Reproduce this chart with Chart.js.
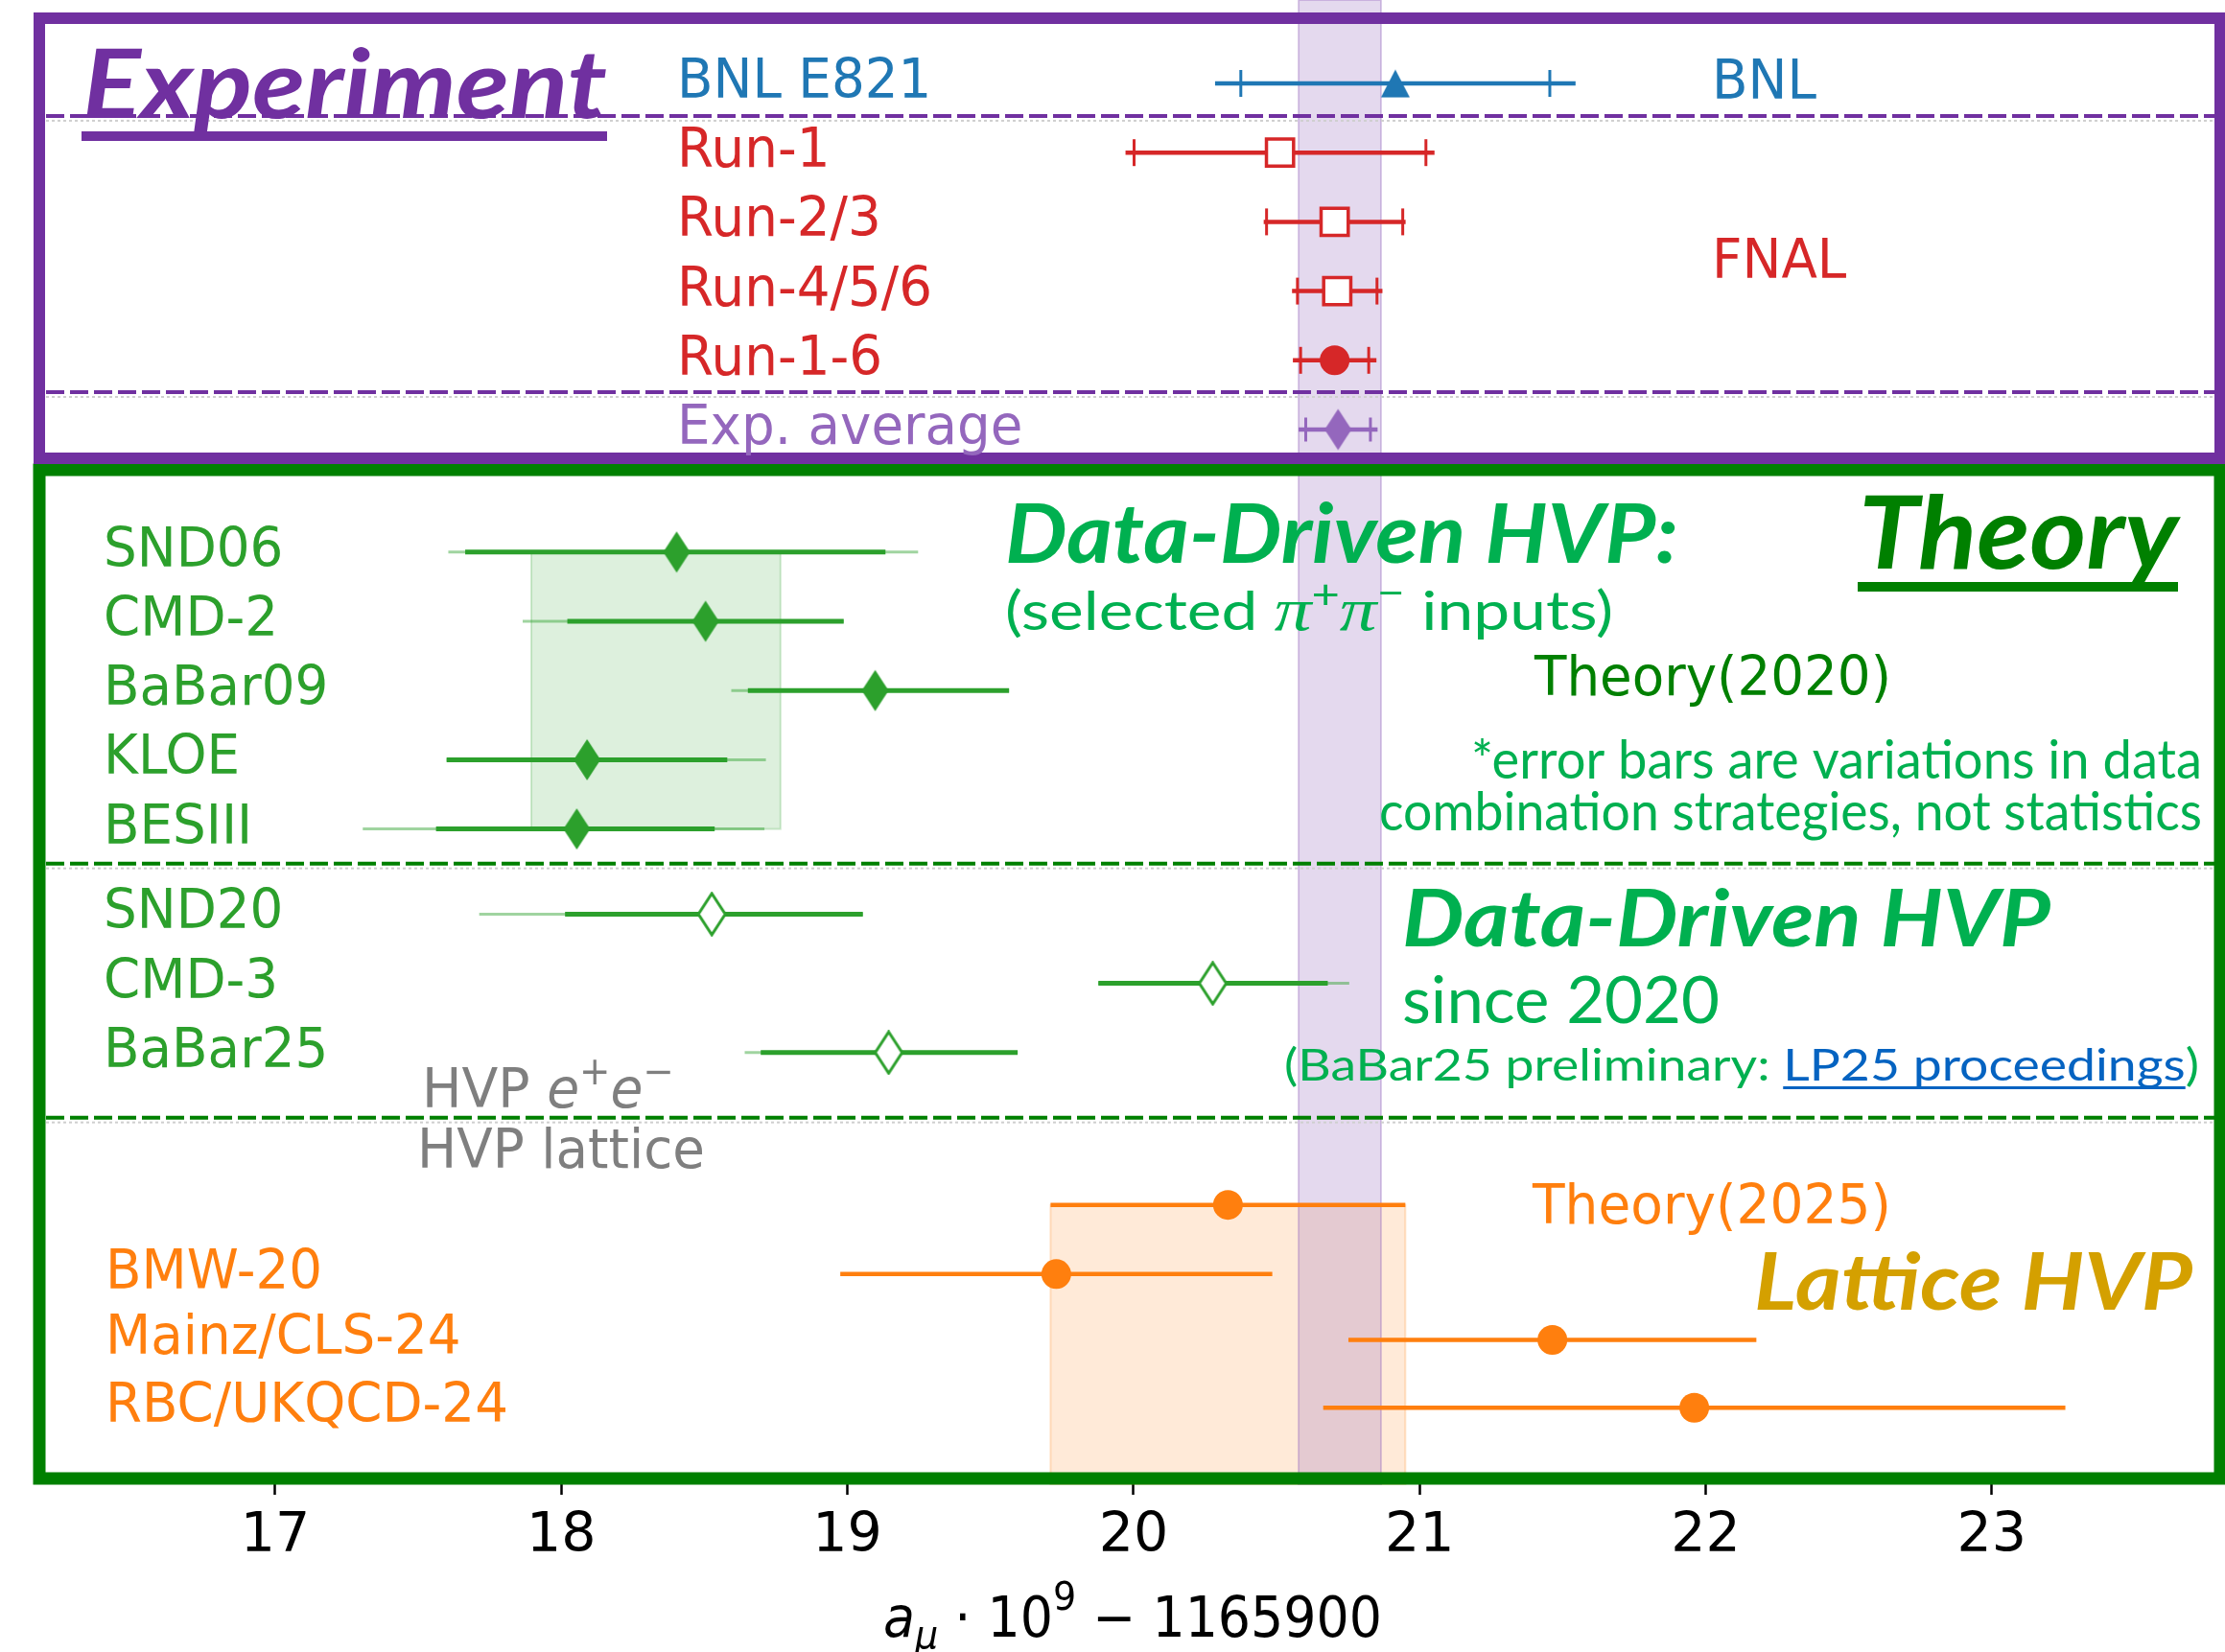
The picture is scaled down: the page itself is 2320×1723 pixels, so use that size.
<!DOCTYPE html>
<html>
<head>
<meta charset="utf-8">
<title>a_mu: experiment vs theory</title>
<script src="https://cdn.jsdelivr.net/npm/chart.js@4.4.1/dist/chart.umd.min.js"></script>
<style>
  html, body { margin: 0; padding: 0; background: #fff; }
  canvas { display: block; }
</style>
</head>
<body>
<canvas id="amuChart" width="2320" height="1723"></canvas>
<script>
// ---- data (a_mu * 1e9 - 1165900) ----
// experiment: value, statistical error (caps), total error (line)
const expLabels = ['BNL E821', 'Run-1', 'Run-2/3', 'Run-4/5/6', 'Run-1-6', 'Exp. average']
const expRows   = [0, 1, 2, 3, 4, 5]
const expValues = [20.915, 20.512, 20.703, 20.712, 20.703, 20.715]
const expStat   = [0.54, 0.51, 0.238, 0.139, 0.119, 0.113]
const expTotal  = [0.63, 0.54, 0.248, 0.158, 0.146, 0.138]
const expBand   = [20.577, 20.865]

// data-driven HVP: value, inner range (thick), outer range (light)
const ddLabels  = ['SND06', 'CMD-2', 'BaBar09', 'KLOE', 'BESIII', 'SND20', 'CMD-3', 'BaBar25']
const ddRows    = [6.77, 7.77, 8.77, 9.77, 10.77, 12, 13, 14]
const ddValues  = [18.403, 18.504, 19.097, 18.09, 18.054, 18.526, 20.277, 19.144]
const ddInnerLo = [17.664, 18.021, 18.652, 17.599, 17.562, 18.013, 19.877, 18.697]
const ddInnerHi = [19.133, 18.987, 19.565, 18.58, 18.536, 19.054, 20.679, 19.595]
const ddOuterLo = [17.605, 17.865, 18.594, 17.599, 17.306, 17.713, 19.877, 18.641]
const ddOuterHi = [19.247, 18.987, 19.565, 18.715, 18.71, 19.054, 20.754, 19.595]
const ddOpen    = [false, false, false, false, false, true, true, true]
const theory2020Band = [17.895, 18.766]

// theory 2025 and lattice HVP
const th25Rows   = [16.2]
const th25Values = [20.33]
const th25Err    = [0.62]
const latLabels  = ['BMW-20', 'Mainz/CLS-24', 'RBC/UKQCD-24']
const latRows    = [17.2, 18.15, 19.13]
const latValues  = [19.73, 21.464, 21.96]
const latErr     = [0.755, 0.713, 1.297]

const xTicks = [17, 18, 19, 20, 21, 22, 23]

// ---- layout / style ----
const X_MIN = 16.038, X_MAX = 23.815
const Y_MIN = -1.205, Y_MAX = 20.2355
const expSeparators = [0.47, 4.46]
const ddSeparators = [11.27, 14.94]

const BLUE = '#1f77b4', RED = '#d62728', PURPLE = '#9467bd', GREEN = '#2ca02c', ORANGE = '#ff7f0e'
const BRIGHT = '#00B050', DARKGREEN = '#008000', FRAME_PURPLE = '#7030A0'
const expColors = [BLUE, RED, RED, RED, RED, PURPLE]
const expCapH = [28, 28, 28, 28, 28, 25]
const DV = '"DejaVu Sans"'

function marker(w, h, draw) {
  const c = document.createElement('canvas')
  c.width = w
  c.height = h
  draw(c.getContext('2d'), w, h)
  return c
}
const triUp = marker(32, 31, (g, w, h) => {
  g.fillStyle = BLUE
  g.beginPath(); g.moveTo(w / 2, 1); g.lineTo(w - 1, h - 1); g.lineTo(1, h - 1); g.closePath(); g.fill()
})
function thinDiamond(fill, stroke) {
  return marker(34, 47, (g, w, h) => {
    g.beginPath(); g.moveTo(w / 2, 2); g.lineTo(w - 3, h / 2); g.lineTo(w / 2, h - 2); g.lineTo(3, h / 2); g.closePath()
    g.fillStyle = fill; g.fill()
    if (stroke) { g.lineWidth = 3; g.strokeStyle = stroke; g.stroke() }
  })
}
const diaPurple = thinDiamond(PURPLE)
const diaGreen = thinDiamond(GREEN)
const diaOpen = thinDiamond('#fff', GREEN)

function seg(t, font, color, dy, ul) { return { t, font, color, dy: dy || 0, ul } }

// draw a row of text pieces, squeezed/stretched to a target width
function rich(ctx, segs, x, y, width, align) {
  let total = 0
  for (const s of segs) { ctx.font = s.font; s.w = ctx.measureText(s.t).width; total += s.w }
  const sx = width ? width / total : 0.96
  const x0 = align === 'right' ? x - total * sx : x
  ctx.save()
  ctx.translate(x0, y)
  ctx.scale(sx, 1)
  ctx.textAlign = 'left'
  ctx.textBaseline = 'alphabetic'
  let cx = 0
  for (const s of segs) {
    ctx.font = s.font
    ctx.fillStyle = s.color
    ctx.fillText(s.t, cx, s.dy)
    if (s.ul) ctx.fillRect(cx, s.ul[0], s.w, s.ul[1])
    cx += s.w
  }
  ctx.restore()
}

function hLine(ctx, x0, x1, yy, color, w) {
  ctx.strokeStyle = color; ctx.lineWidth = w
  ctx.beginPath(); ctx.moveTo(x0, yy); ctx.lineTo(x1, yy); ctx.stroke()
}
function vLine(ctx, xx, y0, y1, color, w) {
  ctx.strokeStyle = color; ctx.lineWidth = w
  ctx.beginPath(); ctx.moveTo(xx, y0); ctx.lineTo(xx, y1); ctx.stroke()
}
function band(ctx, x0, y0, x1, y1, fill, edge) {
  ctx.fillStyle = fill
  ctx.fillRect(x0, y0, x1 - x0, y1 - y0)
  ctx.strokeStyle = edge; ctx.lineWidth = 2
  ctx.strokeRect(x0, y0, x1 - x0, y1 - y0)
}

const backLayer = {
  id: 'backLayer',
  beforeDatasetsDraw(chart) {
    const { ctx, chartArea: a, scales: { x, y } } = chart
    ctx.save()
    // bands
    band(ctx, x.getPixelForValue(theory2020Band[0]), y.getPixelForValue(ddRows[0]),
      x.getPixelForValue(theory2020Band[1]), y.getPixelForValue(ddRows[4]),
      'rgba(44,160,44,0.16)', 'rgba(44,160,44,0.22)')
    band(ctx, x.getPixelForValue(th25Values[0] - th25Err[0]), y.getPixelForValue(th25Rows[0]),
      x.getPixelForValue(th25Values[0] + th25Err[0]), a.bottom,
      'rgba(255,127,14,0.16)', 'rgba(255,127,14,0.22)')
    band(ctx, x.getPixelForValue(expBand[0]), a.top, x.getPixelForValue(expBand[1]), a.bottom,
      'rgba(148,103,189,0.25)', 'rgba(148,103,189,0.35)')

    // separators
    const sep = (rows, color) => rows.forEach(r => {
      const yy = y.getPixelForValue(r)
      ctx.setLineDash([3, 3])
      hLine(ctx, 48, 2310, yy + 5, '#cfcfcf', 2)
      ctx.setLineDash([19, 6])
      hLine(ctx, 48, 2310, yy, color, 4)
    })
    sep(expSeparators, FRAME_PURPLE)
    sep(ddSeparators, DARKGREEN)
    ctx.setLineDash([])

    // experiment error bars: line = total, caps = statistical
    ctx.lineCap = 'butt'
    expValues.forEach((v, i) => {
      const yy = y.getPixelForValue(expRows[i])
      const c = expColors[i]
      hLine(ctx, x.getPixelForValue(v - expTotal[i]), x.getPixelForValue(v + expTotal[i]), yy, c, 4.5)
      const h = expCapH[i] / 2
      vLine(ctx, x.getPixelForValue(v - expStat[i]), yy - h, yy + h, c, 3)
      vLine(ctx, x.getPixelForValue(v + expStat[i]), yy - h, yy + h, c, 3)
    })
    // data-driven ranges
    ddValues.forEach((v, i) => {
      const yy = y.getPixelForValue(ddRows[i])
      hLine(ctx, x.getPixelForValue(ddOuterLo[i]), x.getPixelForValue(ddOuterHi[i]), yy, 'rgba(44,160,44,0.45)', 3)
      hLine(ctx, x.getPixelForValue(ddInnerLo[i]), x.getPixelForValue(ddInnerHi[i]), yy, GREEN, 5)
    })
    // theory 2025 and lattice
    const orange = (vals, errs, rows) => vals.forEach((v, i) => {
      const yy = y.getPixelForValue(rows[i])
      hLine(ctx, x.getPixelForValue(v - errs[i]), x.getPixelForValue(v + errs[i]), yy, ORANGE, 4.5)
    })
    orange(th25Values, th25Err, th25Rows)
    orange(latValues, latErr, latRows)
    ctx.restore()
  }
}

const frontLayer = {
  id: 'frontLayer',
  afterDatasetsDraw(chart) {
    const { ctx, scales: { x, y } } = chart
    ctx.save()
    // frames
    ctx.lineWidth = 13; ctx.strokeStyle = DARKGREEN
    ctx.strokeRect(41, 490, 2274, 1052)
    ctx.lineWidth = 12; ctx.strokeStyle = FRAME_PURPLE
    ctx.strokeRect(41, 19, 2274, 459)

    // row labels
    const lab = `57px ${DV}`
    expLabels.forEach((t, i) => rich(ctx, [seg(t, lab, expColors[i])], 706, y.getPixelForValue(expRows[i]) + 15))
    ddLabels.forEach((t, i) => rich(ctx, [seg(t, lab, GREEN)], 108, y.getPixelForValue(ddRows[i]) + 15))
    latLabels.forEach((t, i) => rich(ctx, [seg(t, lab, ORANGE)], 110, y.getPixelForValue(latRows[i]) + 15))

    // group titles and notes
    rich(ctx, [seg('Experiment', 'italic bold 100px Lato', FRAME_PURPLE)], 86, 123, 547)
    ctx.fillStyle = FRAME_PURPLE; ctx.fillRect(85, 137, 548, 10)
    rich(ctx, [seg('BNL', lab, BLUE)], 1785, 103)
    rich(ctx, [seg('FNAL', lab, RED)], 1785, 290)

    rich(ctx, [seg('Data-Driven HVP:', 'italic bold 86px Lato', BRIGHT)], 1048, 587, 702)
    const pi = 'italic 64px "Liberation Serif"', sup = '42px Lato'
    rich(ctx, [seg('(selected ', '56px Lato', BRIGHT), seg('\u03c0', pi, BRIGHT), seg('+', sup, BRIGHT, -22),
      seg('\u03c0', pi, BRIGHT), seg('\u2212', sup, BRIGHT, -24), seg(' inputs)', '56px Lato', BRIGHT)], 1048, 657, 634)
    rich(ctx, [seg('Theory', 'italic bold 105px Lato', DARKGREEN)], 1938, 593, 333)
    ctx.fillStyle = DARKGREEN; ctx.fillRect(1937, 607, 334, 10)
    rich(ctx, [seg('Theory(2020)', lab, DARKGREEN)], 1600, 725, 372)
    rich(ctx, [seg('*error bars are variations in data', '56px Lato', BRIGHT)], 2296, 812, 762, 'right')
    rich(ctx, [seg('combination strategies, not statistics', '56px Lato', BRIGHT)], 2296, 866, 858, 'right')

    rich(ctx, [seg('Data-Driven HVP', 'italic bold 83px Lato', BRIGHT)], 1462, 987, 676)
    rich(ctx, [seg('since 2020', '68px Lato', BRIGHT)], 1462, 1067, 331)
    rich(ctx, [seg('(BaBar25 preliminary: ', '47px Lato', BRIGHT), seg('LP25 proceedings', '47px Lato', '#0563C1', 0, [6, 3]),
      seg(')', '47px Lato', BRIGHT)], 1339, 1127, 954)

    const gray = '#7f7f7f', gsup = `40px ${DV}`, ge = `italic 57px ${DV}`
    rich(ctx, [seg('HVP ', lab, gray), seg('e', ge, gray), seg('+', gsup, gray, -24), seg('e', ge, gray),
      seg('\u2212', gsup, gray, -24)], 440, 1155, 263)
    rich(ctx, [seg('HVP lattice', lab, gray)], 435, 1218, 300)
    rich(ctx, [seg('Theory(2025)', lab, ORANGE)], 1598, 1276, 374)
    rich(ctx, [seg('Lattice HVP', 'italic bold 83px Lato', '#D4A000')], 1829, 1366, 457)

    // axis title
    const big = `58px ${DV}`, small = `41px ${DV}`
    rich(ctx, [seg('a', `italic ${big}`, '#000'), seg('\u03bc', `italic ${small}`, '#000', 12),
      seg(' \u00b7 10', big, '#000'), seg('9', small, '#000', -28), seg(' \u2212 1165900', big, '#000')], 921, 1707, 520)
    ctx.restore()
  }
}

const chartCtx = document.getElementById('amuChart').getContext('2d')

new Chart(chartCtx, {
  type: 'scatter',
  data: {
    datasets: [
      {
        label: 'Experiment',
        data: expValues.map((v, i) => ({ x: v, y: expRows[i] })),
        pointStyle: [triUp, 'rect', 'rect', 'rect', 'circle', diaPurple],
        pointRadius: [15, 20, 20, 20, 15.5, 15],
        pointBackgroundColor: [BLUE, '#fff', '#fff', '#fff', RED, PURPLE],
        pointBorderColor: [BLUE, RED, RED, RED, RED, PURPLE],
        pointBorderWidth: [0, 3.5, 3.5, 3.5, 0, 0]
      },
      {
        label: 'Data-driven HVP',
        data: ddValues.map((v, i) => ({ x: v, y: ddRows[i] })),
        pointStyle: ddOpen.map(o => o ? diaOpen : diaGreen),
        pointRadius: 15
      },
      {
        label: 'Theory 2025',
        data: th25Values.map((v, i) => ({ x: v, y: th25Rows[i] })),
        pointStyle: 'circle', pointRadius: 15.5,
        pointBackgroundColor: ORANGE, pointBorderWidth: 0
      },
      {
        label: 'Lattice HVP',
        data: latValues.map((v, i) => ({ x: v, y: latRows[i] })),
        pointStyle: 'circle', pointRadius: 15.5,
        pointBackgroundColor: ORANGE, pointBorderWidth: 0
      }
    ]
  },
  options: {
    responsive: false,
    animation: false,
    devicePixelRatio: 1,
    events: [],
    layout: { padding: 0, autoPadding: false },
    plugins: { legend: { display: false }, tooltip: { enabled: false } },
    scales: {
      x: {
        type: 'linear',
        min: X_MIN,
        max: X_MAX,
        afterFit: s => { s.height = 175 },
        afterBuildTicks: s => { s.ticks = xTicks.map(v => ({ value: v })) },
        border: { display: false },
        grid: { drawOnChartArea: false, drawTicks: true, tickLength: 11, tickWidth: 2.5, tickColor: '#000' },
        ticks: { font: { family: 'DejaVu Sans', size: 57 }, color: '#000', padding: 10, maxRotation: 0, autoSkip: false }
      },
      y: { type: 'linear', display: false, reverse: true, min: Y_MIN, max: Y_MAX }
    }
  },
  plugins: [backLayer, frontLayer]
})
</script>
</body>
</html>
